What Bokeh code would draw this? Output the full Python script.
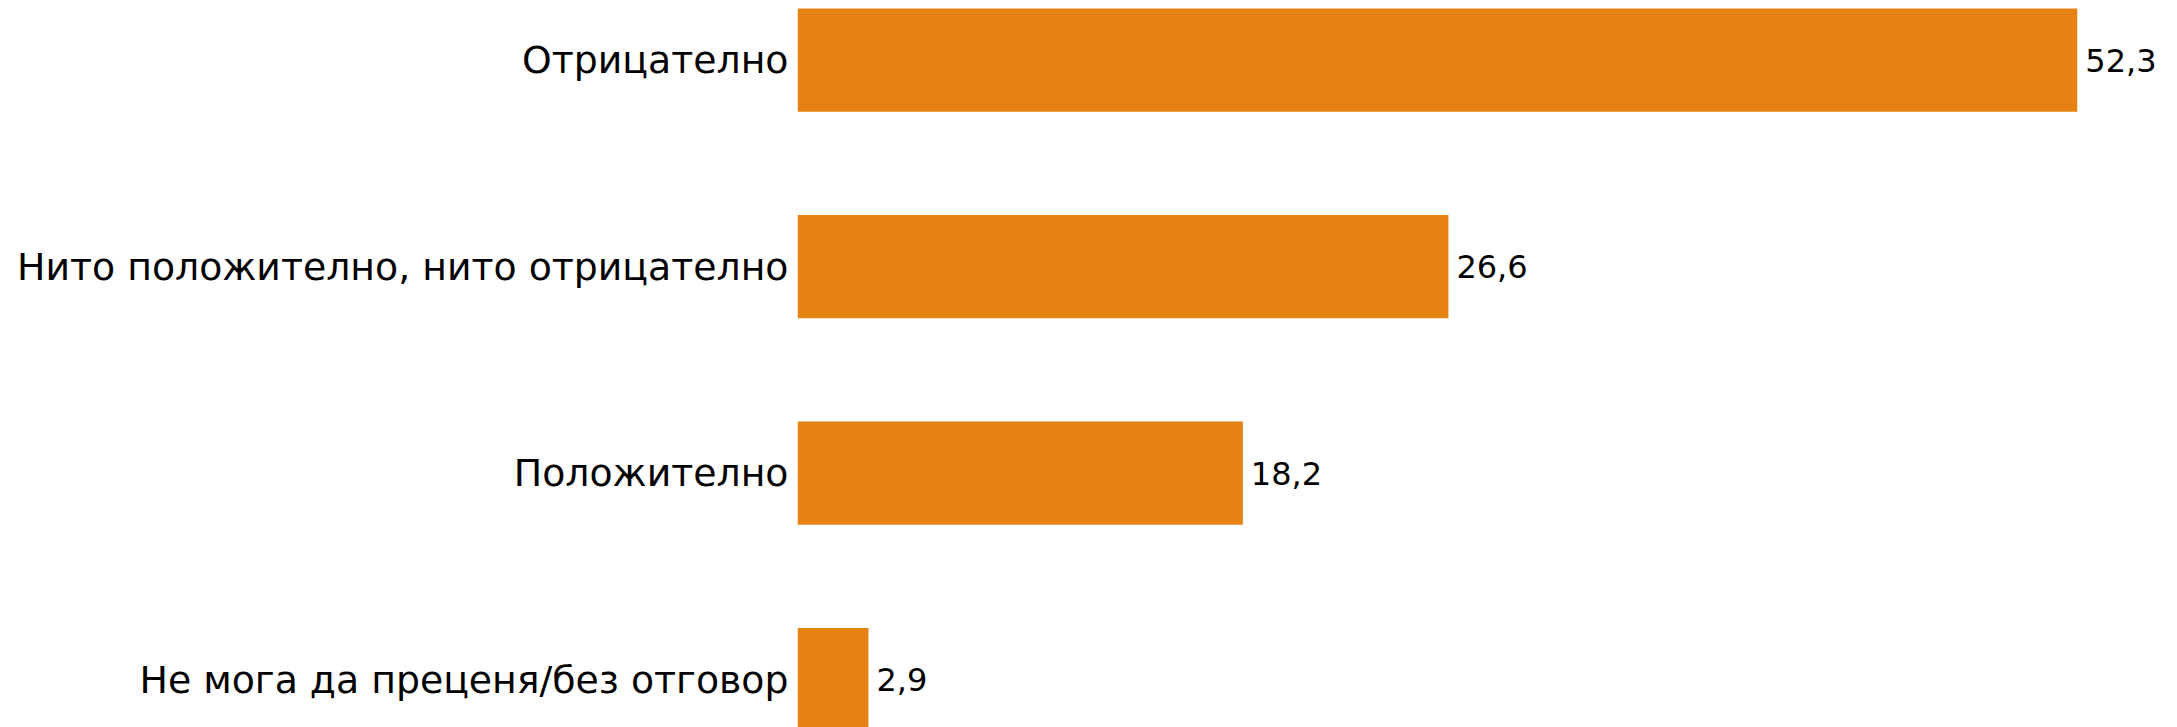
from bokeh.plotting import figure
from bokeh.models import Range1d, FixedTicker, ColumnDataSource, LabelSet
from bokeh.core.properties import value
from bokeh.embed import file_html
from bokeh.resources import INLINE

categories = ["Отрицателно", "Нито положително, нито отрицателно", "Положително", "Не мога да преценя/без отговор"]
values = [52.3, 26.6, 18.2, 2.9]
value_labels = ["52,3", "26,6", "18,2", "2,9"]

BAR_COLOR = "#E58212"
FONT = "DejaVu Sans"

W, H = 2177, 727
LEFT = 797
TOP = 8
px_per_unit = 24.47
row_px = 206.5

ypos = list(range(len(categories)))
src = ColumnDataSource(dict(y=ypos, v=values, lab=value_labels, cat=categories))

x_end = (W - LEFT) / px_per_unit
y_top = -0.25 - TOP / row_px
y_bottom = y_top + H / row_px

p = figure(width=W, height=H, output_backend="svg", toolbar_location=None,
           x_range=Range1d(0, x_end), y_range=Range1d(y_bottom, y_top),
           min_border_left=LEFT, min_border_right=0, min_border_top=0, min_border_bottom=0)
p.outline_line_color = None
p.grid.visible = False
p.xaxis.visible = False

p.hbar(y="y", left=0, right="v", height=0.5, source=src, fill_color=BAR_COLOR, line_color=None)

labels = LabelSet(x="v", y="y", text="lab", source=src, x_offset=8,
                  text_font=value(FONT), text_font_size=value("32px"), text_baseline="middle",
                  text_align="left", text_color="black")
p.add_layout(labels)

yax = p.yaxis[0]
yax.ticker = FixedTicker(ticks=ypos)
yax.major_label_overrides = {i: c for i, c in zip(ypos, categories)}
yax.major_label_text_font = FONT
yax.major_label_text_font_size = "37.8px"
yax.major_label_text_color = "black"
yax.major_label_standoff = 9
yax.axis_line_color = None
yax.major_tick_line_color = None
yax.minor_tick_line_color = None
yax.major_tick_out = 0
yax.major_tick_in = 0

open("out.html", "w").write(file_html(p, INLINE))
